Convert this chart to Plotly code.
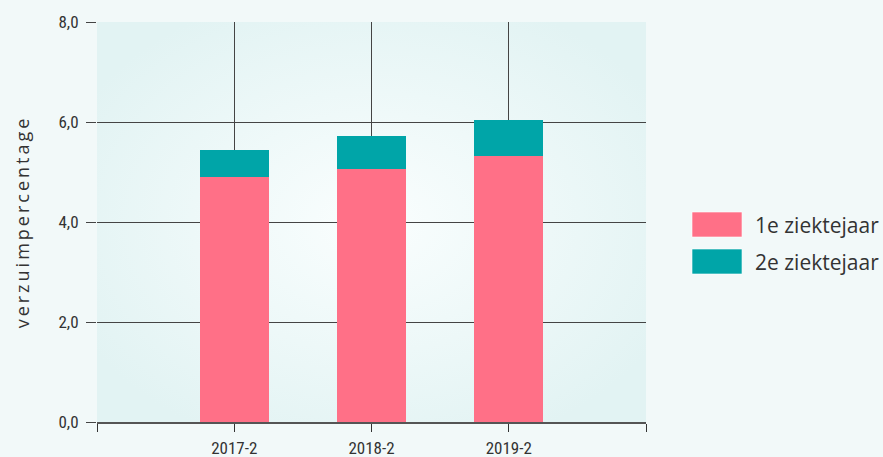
import base64
import plotly.graph_objects as go

# ---- data ----
categories = ["2017-2", "2018-2", "2019-2"]
ziektejaar_1 = [4.90, 5.07, 5.33]
ziektejaar_2 = [0.54, 0.65, 0.71]
series_names = ["1e ziektejaar", "2e ziektejaar"]
series_colors = ["#FF7087", "#00A5A8"]
y_ticks = [0, 2, 4, 6, 8]
y_title = "verzuimpercentage"

x_pos = list(range(len(categories)))

fig = go.Figure()
fig.add_trace(go.Bar(x=x_pos, y=ziektejaar_1, name=series_names[0],
                     marker=dict(color=series_colors[0], line=dict(width=0)),
                     width=0.5, showlegend=False))
fig.add_trace(go.Bar(x=x_pos, y=ziektejaar_2, name=series_names[1],
                     marker=dict(color=series_colors[1], line=dict(width=0)),
                     width=0.5, showlegend=False))

# radial gradient plot background
svg = ('<svg xmlns="http://www.w3.org/2000/svg" width="549" height="400" viewBox="0 0 549 400">'
       '<defs><radialGradient id="g" cx="50%" cy="50%" r="60%">'
       '<stop offset="0%" stop-color="#FAFEFE"/><stop offset="100%" stop-color="#E2F3F3"/>'
       '</radialGradient></defs><rect width="549" height="400" fill="url(#g)"/></svg>')
src = "data:image/svg+xml;base64," + base64.b64encode(svg.encode()).decode()

fig.add_layout_image(dict(source=src, xref="paper", yref="paper", x=0, y=1,
                          sizex=1, sizey=1, sizing="stretch", layer="below",
                          xanchor="left", yanchor="top"))

text_font = "Open Sans, sans-serif"

# custom legend (large swatches)
sw_y = [(0.525, 0.4625), (0.4325, 0.37)]
for i, name in enumerate(series_names):
    top, bot = sw_y[i]
    fig.add_shape(type="rect", xref="paper", yref="paper", x0=1.0838, x1=1.1749,
                  y0=bot, y1=top, fillcolor=series_colors[i],
                  line=dict(color="rgba(255,255,255,0.6)", width=1))
    fig.add_annotation(xref="paper", yref="paper", x=1.194, y=(top + bot) / 2,
                       text=name, showarrow=False, xanchor="left", yanchor="middle",
                       font=dict(family=text_font, size=21, color="#333333"))

tick_font = dict(family="Liberation Sans Narrow, Roboto Condensed, sans-serif", size=17, color="#333333")

fig.update_layout(
    width=883, height=457,
    margin=dict(l=97, r=237, t=22, b=35, autoexpand=False),
    paper_bgcolor="#F2F9F9",
    plot_bgcolor="rgba(0,0,0,0)",
    barmode="stack",
    separators=",.",
    xaxis=dict(range=[-1, 3], tickmode="array",
               tickvals=[-1] + x_pos + [3],
               ticktext=[""] + categories + [""],
               showgrid=True, gridcolor="#444444", gridwidth=1,
               ticks="outside", ticklen=8, tickcolor="#333333",
               showline=True, linecolor="#555555", linewidth=2,
               zeroline=False, tickfont=tick_font, ticklabelstandoff=2),
    yaxis=dict(range=[0, 8], tickmode="array", tickvals=y_ticks, tickformat=".1f",
               showgrid=True, gridcolor="#444444", gridwidth=1,
               ticks="outside", ticklen=10, tickcolor="#444444",
               zeroline=False, tickfont=tick_font, ticklabelstandoff=4,
               title=dict(text='<span style="letter-spacing:3px">' + y_title + '</span>',
                          standoff=24,
                          font=dict(family=text_font, size=18, color="#333333"))),
)

fig.write_html("out.html", config={"displayModeBar": False},
               post_script="document.body.style.margin='0';")
